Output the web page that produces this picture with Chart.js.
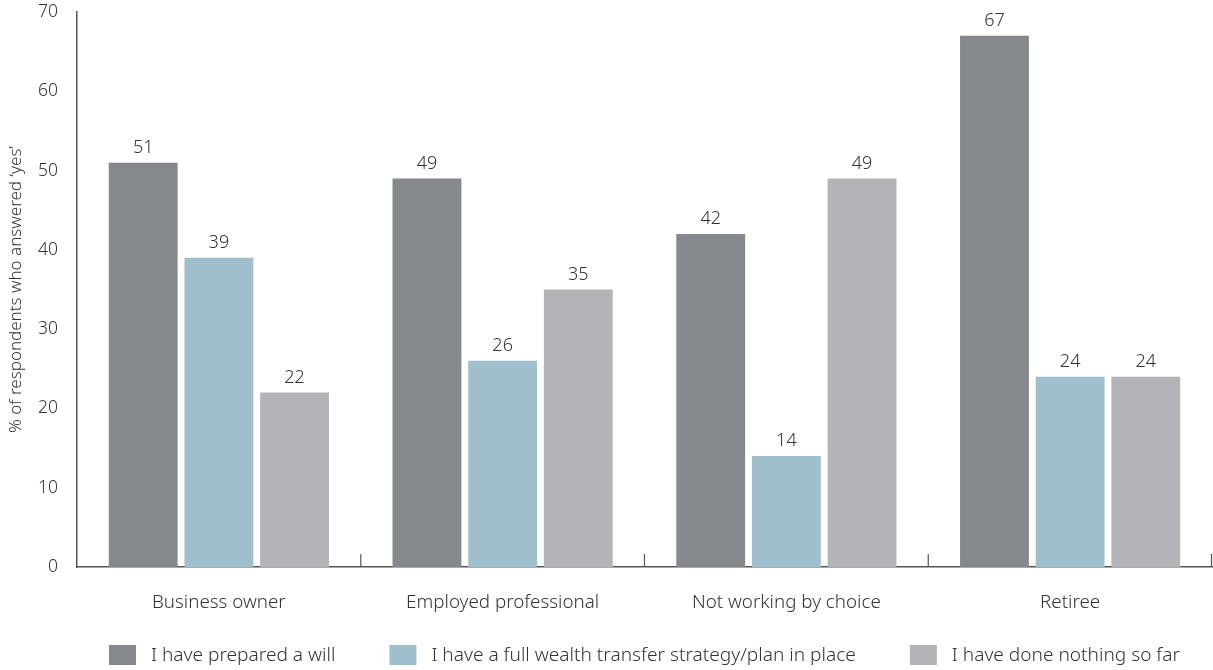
<!DOCTYPE html>
<html>
<head>
<meta charset="utf-8">
<script src="https://cdn.jsdelivr.net/npm/chart.js@4.4.1/dist/chart.umd.min.js"></script>
<style>
  html, body { margin: 0; padding: 0; background: #ffffff; }
  #wrap { width: 1213px; height: 670px; position: relative; }
</style>
</head>
<body>
<div id="wrap"><canvas id="c" width="1213" height="670"></canvas></div>
<script>
const categories = ['Business owner', 'Employed professional', 'Not working by choice', 'Retiree'];
const seriesNames = ['I have prepared a will', 'I have a full wealth transfer strategy/plan in place', 'I have done nothing so far'];
const preparedWill = [51, 49, 42, 67];
const fullStrategy = [39, 26, 14, 24];
const doneNothing = [22, 35, 49, 24];
const yTicks = [0, 10, 20, 30, 40, 50, 60, 70];
const colors = ['#85888d', '#a0bfcc', '#b3b4b8'];

const FONT = '"Noto Sans", "Open Sans", sans-serif';
const TEXT = '#333333';
const W = '300';

const valueLabels = {
  id: 'valueLabels',
  afterDatasetsDraw(chart) {
    const ctx = chart.ctx;
    ctx.save();
    ctx.font = W + ' 18px ' + FONT;
    ctx.fillStyle = TEXT;
    ctx.textAlign = 'center';
    ctx.textBaseline = 'bottom';
    chart.data.datasets.forEach((ds, i) => {
      const meta = chart.getDatasetMeta(i);
      meta.data.forEach((bar, j) => {
        ctx.fillText(String(ds.data[j]), bar.x, bar.y - 6);
      });
    });
    ctx.restore();
  }
};

const categoryTicks = {
  id: 'categoryTicks',
  afterDraw(chart) {
    const ctx = chart.ctx;
    const x = chart.scales.x;
    const bottom = chart.chartArea.bottom;
    ctx.save();
    ctx.strokeStyle = '#555555';
    ctx.lineWidth = 1.2;
    for (let i = 0; i < categories.length; i++) {
      const px = i < categories.length - 1
        ? (x.getPixelForValue(i) + x.getPixelForValue(i + 1)) / 2
        : x.right - 0.5;
      ctx.beginPath();
      ctx.moveTo(px, bottom);
      ctx.lineTo(px, bottom - 13);
      ctx.stroke();
    }
    ctx.restore();
  }
};

const customLegend = {
  id: 'customLegend',
  afterDraw(chart) {
    const ctx = chart.ctx;
    ctx.save();
    ctx.font = W + ' 19.1px ' + FONT;
    ctx.textBaseline = 'middle';
    ctx.textAlign = 'left';
    const boxW = 27, boxH = 20, gapText = 15, gapItem = 54;
    const widths = seriesNames.map(n => ctx.measureText(n).width);
    const total = widths.reduce((a, w) => a + boxW + gapText + w, 0) + gapItem * (seriesNames.length - 1);
    let x = (chart.chartArea.left + chart.chartArea.right) / 2 - total / 2;
    const y = 655;
    seriesNames.forEach((n, i) => {
      ctx.fillStyle = colors[i];
      ctx.fillRect(x, y - boxH / 2, boxW, boxH);
      ctx.fillStyle = TEXT;
      ctx.fillText(n, x + boxW + gapText, y + 1);
      x += boxW + gapText + widths[i] + gapItem;
    });
    ctx.restore();
  }
};

new Chart(document.getElementById('c'), {
  type: 'bar',
  data: {
    labels: categories,
    datasets: [
      { label: seriesNames[0], data: preparedWill, backgroundColor: colors[0] },
      { label: seriesNames[1], data: fullStrategy, backgroundColor: colors[1] },
      { label: seriesNames[2], data: doneNothing, backgroundColor: colors[2] }
    ]
  },
  options: {
    responsive: false,
    animation: false,
    devicePixelRatio: 1,
    layout: { padding: { top: 12, right: 1, bottom: 50, left: 0 } },
    datasets: { bar: { barPercentage: 0.91, categoryPercentage: 0.80 } },
    plugins: {
      legend: { display: false },
      tooltip: { enabled: false }
    },
    scales: {
      x: {
        grid: { display: false, drawTicks: false },
        border: { display: true, color: '#555555', width: 1.5 },
        ticks: { color: TEXT, font: { family: FONT, size: 18.8, weight: W }, padding: 24, maxRotation: 0 },
        afterFit(s) { s.height = 53; s.paddingLeft = 0; s.paddingRight = 0; }
      },
      y: {
        min: 0, max: 70,
        afterBuildTicks(s) { s.ticks = yTicks.map(v => ({ value: v })); },
        grid: { display: false, drawTicks: false },
        border: { display: true, color: '#555555', width: 1.5 },
        ticks: { color: TEXT, font: { family: FONT, size: 17.5, weight: W }, padding: 19 },
        title: { display: true, text: '% of respondents who answered \u2018yes\u2019', color: TEXT, font: { family: FONT, size: 17, weight: W }, padding: { top: 6, bottom: 0 } },
        afterFit(s) { s.width = 77; s.paddingTop = 0; s.paddingBottom = 0; }
      }
    }
  },
  plugins: [valueLabels, categoryTicks, customLegend]
});
</script>
</body>
</html>
